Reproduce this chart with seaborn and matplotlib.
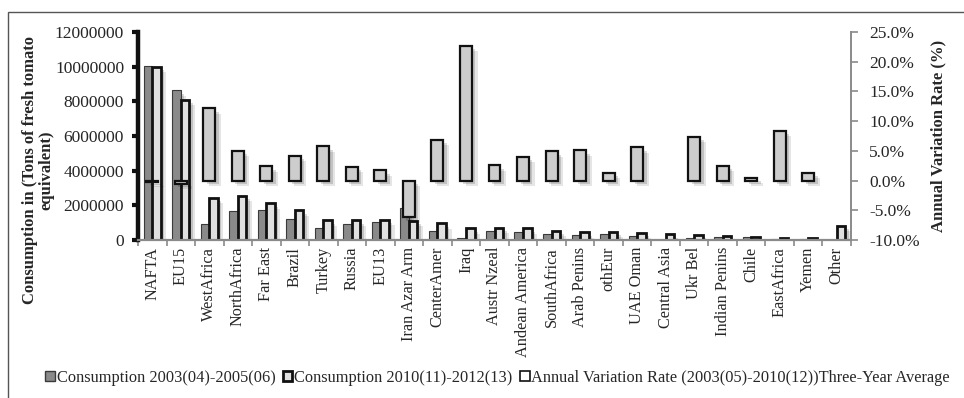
import matplotlib
matplotlib.use("Agg")
import matplotlib.pyplot as plt
import matplotlib.patheffects as pe
from matplotlib.patches import Rectangle, Patch
from matplotlib.ticker import FuncFormatter, FixedLocator
import numpy as np
import pandas as pd
import seaborn as sns

categories = ["NAFTA", "EU15", "WestAfrica", "NorthAfrica", "Far East", "Brazil",
              "Turkey", "Russia", "EU13", "Iran Azar Arm", "CenterAmer", "Iraq",
              "Austr Nzeal", "Andean America", "SouthAfrica", "Arab Penins", "othEur",
              "UAE Oman", "Central Asia", "Ukr Bel", "Indian Penins", "Chile",
              "EastAfrica", "Yemen", "Other"]

cons_2003_2005 = [10050000, 8650000, 940000, 1690000, 1730000, 1210000, 690000, 920000,
                  1020000, 1830000, 540000, 130000, 540000, 440000, 330000, 290000,
                  350000, 230000, 0, 130000, 170000, 170000, 80000, 80000, 0]
cons_2010_2012 = [10000000, 8100000, 2440000, 2560000, 2120000, 1710000, 1130000, 1130000,
                  1170000, 1120000, 960000, 690000, 710000, 670000, 540000, 440000,
                  480000, 420000, 330000, 300000, 230000, 200000, 100000, 120000, 830000]
variation_rate = [-0.2, -0.5, 12.2, 5.05, 2.4, 4.15, 5.8, 2.3, 1.75, -6.2, 6.9, 22.7,
                  2.6, 4.05, 4.9, 5.1, 1.35, 5.6, np.nan, 7.4, 2.5, 0.5, 8.4, 1.35, np.nan]

series_names = ["Consumption 2003(04)-2005(06)", "Consumption 2010(11)-2012(13)"]
var_name = "Annual Variation Rate (2003(05)-2010(12))Three-Year Average"

sns.set_style("white")
plt.rcParams["font.family"] = ["Liberation Serif", "DejaVu Serif"]

df_cons = pd.DataFrame({
    "region": categories * 2,
    "value": cons_2003_2005 + cons_2010_2012,
    "series": [series_names[0]] * len(categories) + [series_names[1]] * len(categories),
})
df_var = pd.DataFrame({"region": categories, "rate": variation_rate})

fig = plt.figure(figsize=(9.64, 3.98), dpi=100)
ax = fig.add_axes([138 / 964, 1 - 240 / 398, (851 - 138) / 964, (240 - 32) / 398])

grey_fill = "#8a8a8a"
light_fill = "#e0e0e0"
var_fill = "#cdcdcd"

sns.barplot(data=df_cons, x="region", y="value", hue="series", order=categories,
            hue_order=series_names, palette=[grey_fill, light_fill], width=0.6,
            ax=ax, legend=False, saturation=1)

shadow = [pe.SimplePatchShadow(offset=(4, -4), shadow_rgbFace="#000000", alpha=0.10),
          pe.SimplePatchShadow(offset=(2.5, -2.5), shadow_rgbFace="#000000", alpha=0.15),
          pe.Normal()]

for i, cont in enumerate(ax.containers):
    for p in cont:
        if i == 0:
            p.set_edgecolor("#3a3a3a")
            p.set_linewidth(0.8)
        else:
            p.set_edgecolor("#111111")
            p.set_linewidth(2.0)
        p.set_path_effects(shadow)

ax.set_xlim(-0.5, len(categories) - 0.5)
ax.set_ylim(0, 12000000)
ax.set_yticks(np.arange(0, 12000001, 2000000))
ax.yaxis.set_major_formatter(FuncFormatter(lambda v, p: f"{int(v)}"))
ax.set_xlabel("")
ax.set_ylabel("Consumption in (Tons of fresh tomato\nequivalent)", fontsize=12,
              fontweight="bold", linespacing=1.0)
ax.yaxis.set_label_coords((54 - 138) / 713, (240 - 170) / 208)

ax2 = ax.twinx()
sns.barplot(data=df_var, x="region", y="rate", order=categories, color=var_fill,
            width=0.42, ax=ax2, saturation=1)
for p in ax2.patches:
    p.set_edgecolor("#111111")
    p.set_linewidth(1.6)
    p.set_path_effects(shadow)
ax2.set_ylim(-10, 25)
ax2.set_yticks(np.arange(-10, 25.1, 5))
ax2.yaxis.set_major_formatter(FuncFormatter(lambda v, p: f"{v:.1f}%"))
ax2.set_ylabel("Annual Variation Rate (%)", fontsize=12, fontweight="bold", labelpad=8)
ax2.set_xlim(-0.5, len(categories) - 0.5)
ax2.set_xlabel("")

# spines and ticks
for a in (ax, ax2):
    for s in a.spines.values():
        s.set_visible(False)
ax.spines["left"].set_visible(True)
ax.spines["left"].set_color("#111111")
ax.spines["left"].set_linewidth(3.2)
ax.spines["bottom"].set_visible(True)
ax.spines["bottom"].set_color("#8a8a8a")
ax.spines["bottom"].set_linewidth(1.6)
ax2.spines["right"].set_visible(True)
ax2.spines["right"].set_color("#8a8a8a")
ax2.spines["right"].set_linewidth(1.4)

ax.tick_params(axis="y", which="major", left=True, length=4, width=3, color="#111111",
               labelsize=12.5, pad=6)
ax2.tick_params(axis="y", which="major", right=True, length=5, width=1.2, color="#8a8a8a",
                labelsize=12.5, pad=8)
ax.set_xticks(range(len(categories)))
ax.set_xticklabels(categories, rotation=90, fontsize=11.7)
ax.xaxis.set_minor_locator(FixedLocator(np.arange(-0.5, len(categories), 1.0)))
ax.tick_params(axis="x", which="major", length=0, pad=5)
ax.tick_params(axis="x", which="minor", bottom=True, length=4, width=1.2, color="#8a8a8a")
ax2.tick_params(axis="x", which="both", bottom=False, top=False, labelbottom=False,
                labeltop=False)
ax.grid(False)
ax2.grid(False)

# legend
handles = [Patch(facecolor=grey_fill, edgecolor="#3a3a3a", linewidth=1.0),
           Patch(facecolor=light_fill, edgecolor="#111111", linewidth=2.0),
           Patch(facecolor="white", edgecolor="#111111", linewidth=1.2)]
fig.legend(handles, series_names + [var_name], loc="center",
           bbox_to_anchor=(0.516, 1 - 378 / 398), ncol=3, frameon=False,
           fontsize=11.8, handlelength=0.6, handleheight=0.6, handletextpad=0.1,
           columnspacing=0.45, borderaxespad=0)

# outer frame
fig.add_artist(Rectangle((8 / 964, -0.2), 1.2, 1.2 - 12 / 398, transform=fig.transFigure,
                         fill=False, edgecolor="#555555", linewidth=1.0))

fig.savefig("out.png", dpi=100)
